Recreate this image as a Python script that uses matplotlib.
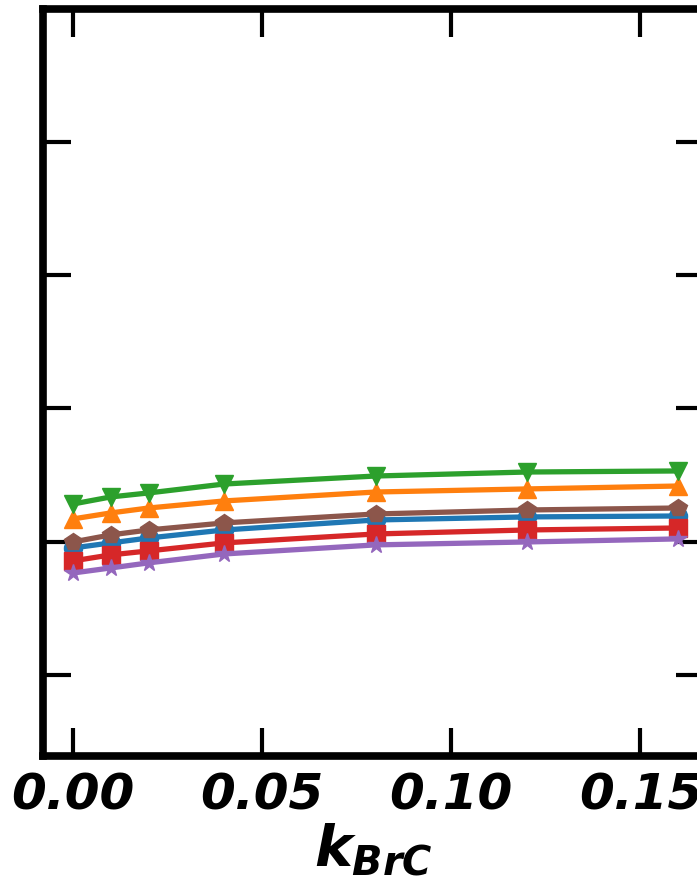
import matplotlib
matplotlib.use("Agg")
import matplotlib.pyplot as plt

# dados
k_brc = [0.00, 0.01, 0.02, 0.04, 0.08, 0.12, 0.16]

serie_azul = [1.953, 1.991, 2.028, 2.088, 2.163, 2.186, 2.193]
serie_laranja = [2.171, 2.216, 2.253, 2.306, 2.373, 2.396, 2.418]
serie_verde = [2.283, 2.336, 2.366, 2.433, 2.493, 2.523, 2.531]
serie_vermelha = [1.856, 1.901, 1.931, 1.991, 2.058, 2.088, 2.103]
serie_roxa = [1.765, 1.803, 1.841, 1.908, 1.976, 1.998, 2.021]
serie_marrom = [1.998, 2.051, 2.088, 2.141, 2.208, 2.238, 2.253]

x_ticks = [0.00, 0.05, 0.10, 0.15]
x_labels = ["0.00", "0.05", "0.10", "0.15"]
y_ticks = [1, 2, 3, 4, 5]

series = [
    (serie_azul, "tab:blue", "o"),
    (serie_laranja, "tab:orange", "^"),
    (serie_verde, "tab:green", "v"),
    (serie_vermelha, "tab:red", "s"),
    (serie_roxa, "tab:purple", "*"),
    (serie_marrom, "tab:brown", "p"),
]

plt.rcParams["mathtext.fontset"] = "custom"
plt.rcParams["mathtext.it"] = "DejaVu Sans:bold:italic"
plt.rcParams["mathtext.rm"] = "DejaVu Sans:bold"

fig = plt.figure(figsize=(6.97, 8.80), dpi=100)
ax = fig.add_axes([0.0624, 0.141, 0.948, 0.849])

for valores, cor, marcador in series:
    ax.plot(k_brc, valores, color=cor, marker=marcador, lw=3.8, ms=13, clip_on=False)

ax.set_xlim(-0.0078, 0.1669)
ax.set_ylim(0.392, 6.0)
ax.set_xticks(x_ticks)
ax.set_xticklabels(x_labels, fontsize=36, fontweight="bold", fontstyle="italic",
                   family="DejaVu Sans")
ax.set_yticks(y_ticks)
ax.set_yticklabels([])
ax.tick_params(direction="in", length=20, width=3, top=True, right=True, pad=11)
for s in ax.spines.values():
    s.set_linewidth(5.5)

ax.set_xlabel(r"$\mathit{k}_{\mathit{BrC}}$", fontsize=41, labelpad=2)

fig.savefig("out.png", dpi=100)
